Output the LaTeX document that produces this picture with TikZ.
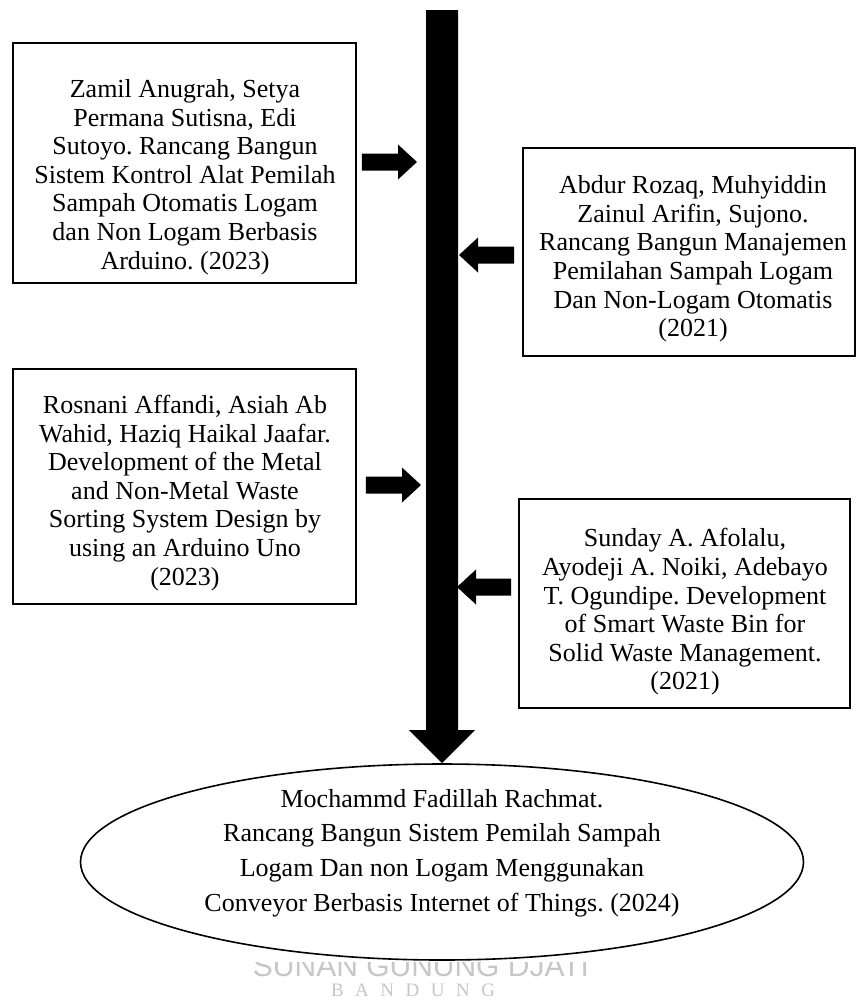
\documentclass[tikz,border=0pt]{standalone}
\usepackage{fontspec}
\setmainfont{Liberation Serif}
\newfontfamily\wmsans{Liberation Sans}
\usetikzlibrary{calc,shapes.geometric}
\newcommand\blkarrow[3]{% #1 start, #2 tip, #3 = 1 (points right) or -1 (points left)
  \fill ($(#1)+(0,-8.5)$) -- ($(#2)+(-19*#3,-8.5)$) -- ($(#2)+(-19*#3,-17.5)$) -- (#2)
    -- ($(#2)+(-19*#3,17.5)$) -- ($(#2)+(-19*#3,8.5)$) -- ($(#1)+(0,8.5)$) -- cycle;}
\newcommand\lsp{\hspace{11.5pt}}
\frenchspacing
\begin{document}
\frenchspacing
\begin{tikzpicture}[x=1pt,y=-1pt,
  box/.style={draw,line width=1.6pt,rectangle,inner sep=0pt},
  txt/.style={align=center,inner sep=0pt,font=\fontsize{26pt}{28.6pt}\selectfont},
  etxt/.style={align=center,inner sep=0pt,font=\fontsize{26pt}{34.6pt}\selectfont},
  wm/.style={text=black!22,inner sep=0pt,anchor=base}]
\useasboundingbox (0,0) rectangle (859,1002);
\fill[white] (0,0) rectangle (859,1002);

% watermark
\begin{scope}
  \clip (0,962) rectangle (859,1002);
  \node[wm,font=\wmsans\fontsize{30pt}{30pt}\selectfont,text depth=0pt] (wm1) at (421,976) {SUNAN GUNUNG DJATI};
\end{scope}
\node[wm,font=\fontsize{19pt}{19pt}\selectfont,text height=13pt] (wm2) at (413,996) {B\lsp A\lsp N\lsp D\lsp U\lsp N\lsp G};

% boxes
\node[box,minimum width=343pt,minimum height=240pt] (b1) at (184.5,163) {};
\node[box,minimum width=332pt,minimum height=208pt] (b2) at (689,252) {};
\node[box,minimum width=343pt,minimum height=235pt] (b3) at (184.5,486.5) {};
\node[box,minimum width=331pt,minimum height=209pt] (b4) at (684.5,603.5) {};

\node[txt] (t1) at (185,177) {Zamil Anugrah, Setya\\Permana Sutisna, Edi\\Sutoyo. Rancang Bangun\\Sistem Kontrol Alat Pemilah\\Sampah Otomatis Logam\\dan Non Logam Berbasis\\Arduino. (2023)};
\node[txt] (t2) at (693,259) {Abdur Rozaq, Muhyiddin\\Zainul Arifin, Sujono.\\Rancang Bangun Manajemen\\Pemilahan Sampah Logam\\Dan Non-Logam Otomatis\\(2021)};
\node[txt] (t3) at (185,493) {Rosnani Affandi, Asiah Ab\\Wahid, Haziq Haikal Jaafar.\\Development of the Metal\\and Non-Metal Waste\\Sorting System Design by\\using an Arduino Uno\\(2023)};
\node[txt] (t4) at (685,612) {Sunday A. Afolalu,\\Ayodeji A. Noiki, Adebayo\\T. Ogundipe. Development\\of Smart Waste Bin for\\Solid Waste Management.\\(2021)};

% ellipse
\node[draw,line width=1.6pt,ellipse,minimum width=723pt,minimum height=196pt,inner sep=0pt] (ell) at (442,862) {};
\node[etxt] (et) at (442,853) {Mochammd Fadillah Rachmat.\\Rancang Bangun Sistem Pemilah Sampah\\Logam Dan non Logam Menggunakan\\Conveyor Berbasis Internet of Things. (2024)};

% main vertical block arrow
\coordinate (bartop) at (442,10);
\fill ($(bartop)+(-16,0)$) -- ($(ell.north)+(-16,-33)$) -- ($(ell.north)+(-33,-33)$) -- (ell.north)
  -- ($(ell.north)+(33,-33)$) -- ($(ell.north)+(16,-33)$) -- ($(bartop)+(16,0)$) -- cycle;

% side block arrows
\coordinate (a1s) at ($(b1.east)+(5,-1)$);
\coordinate (a1t) at (417,162);
\blkarrow{a1s}{a1t}{1}
\coordinate (a2s) at ($(b2.west)+(-8,3)$);
\coordinate (a2t) at (459,255);
\blkarrow{a2s}{a2t}{-1}
\coordinate (a3s) at ($(b3.east)+(9,-1.5)$);
\coordinate (a3t) at (421,485);
\blkarrow{a3s}{a3t}{1}
\coordinate (a4s) at ($(b4.west)+(-7,-16.5)$);
\coordinate (a4t) at (457,587);
\blkarrow{a4s}{a4t}{-1}
\end{tikzpicture}
\end{document}
